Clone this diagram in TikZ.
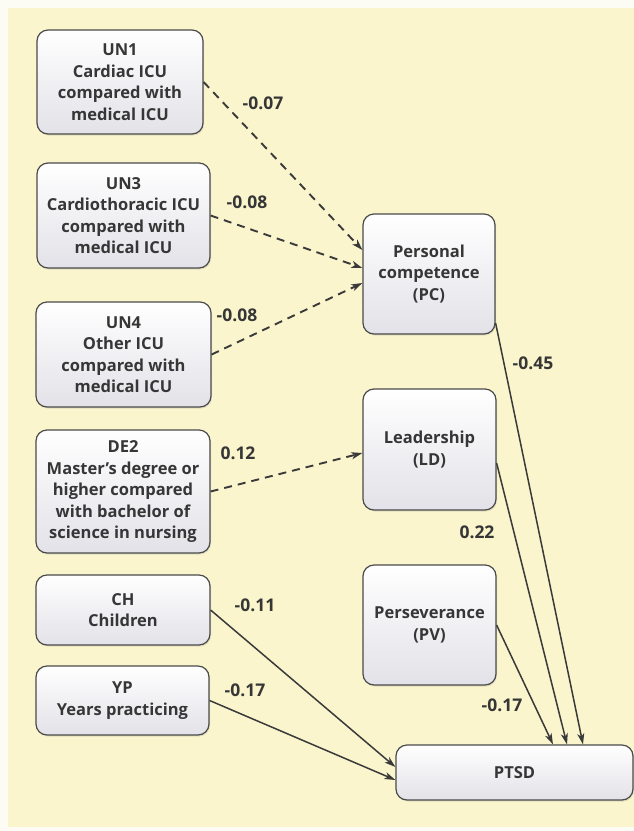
\documentclass[tikz,border=0pt]{standalone}
\usepackage{fontspec}
\setmainfont{Open Sans}
\usetikzlibrary{arrows.meta,shadows}
\definecolor{bgcream}{HTML}{FAF5CD}
\definecolor{pagewhite}{HTML}{FDFCF4}
\definecolor{boxline}{HTML}{4A4A4A}
\definecolor{boxbot}{HTML}{E2E2E8}
\definecolor{txt}{HTML}{363636}
\definecolor{arrowc}{HTML}{3A3A3A}
\begin{document}
\begin{tikzpicture}[x=1pt,y=-1pt,
  box/.style={draw=boxline, line width=1.2pt, rounded corners=11pt,
    top color=white, bottom color=boxbot, text=txt,
    font=\bfseries\fontsize{16.5}{21.5}\selectfont, align=center, inner sep=0pt,
    drop shadow={shadow xshift=1pt, shadow yshift=-1.5pt, opacity=0.2}},
  lbl/.style={text=txt, font=\bfseries\fontsize{17.5}{19}\selectfont, inner sep=0pt},
  path/.style={line width=1.5pt, draw=arrowc, -{Stealth[length=11pt,width=7pt,inset=3pt]}},
  dpath/.style={path, line width=1.9pt, dash pattern=on 8pt off 6pt}
]
\useasboundingbox (0,0) rectangle (634,831);
\fill[pagewhite] (0,0) rectangle (634,831);
\fill[bgcream] (8,8) rectangle (634,827);

\node[box, minimum width=166pt, minimum height=104pt] (un1) at (120,82)
  {UN1\\Cardiac ICU\\compared with\\medical ICU};
\node[box, minimum width=173pt, minimum height=105pt] (un3) at (123.5,215.5)
  {UN3\\Cardiothoracic ICU\\compared with\\medical ICU};
\node[box, minimum width=175pt, minimum height=105pt] (un4) at (123.5,354.5)
  {UN4\\Other ICU\\compared with\\medical ICU};
\node[box, minimum width=174pt, minimum height=123pt] (de2) at (123,491.5)
  {DE2\\Master’s degree or\\higher compared\\with bachelor of\\science in nursing};
\node[box, minimum width=174pt, minimum height=70pt] (ch) at (123,610)
  {CH\\Children};
\node[box, minimum width=173pt, minimum height=69pt] (yp) at (122.5,700.5)
  {YP\\Years practicing};
\node[box, minimum width=132pt, minimum height=120pt] (pc) at (429,274)
  {Personal\\competence\\(PC)};
\node[box, minimum width=133pt, minimum height=121pt] (ld) at (429.5,449.5)
  {Leadership\\(LD)};
\node[box, minimum width=133pt, minimum height=120pt] (pv) at (429.5,625)
  {Perseverance\\(PV)};
\node[box, minimum width=237pt, minimum height=55pt] (ptsd) at (514.5,772.5)
  {PTSD};

\draw[dpath] (un1.east) -- ([yshift=24pt]pc.west);
\draw[dpath] (un3.east) -- ([yshift=6pt]pc.west);
\draw[dpath] (un4.east) -- ([yshift=-9pt]pc.west);
\draw[dpath] (de2.east) -- ([yshift=-3.5pt]ld.west);
\draw[path] ([yshift=-49pt]pc.east) -- ([xshift=68.5pt]ptsd.north);
\draw[path] ([yshift=-13.5pt]ld.east) -- ([xshift=52.5pt]ptsd.north);
\draw[path] (pv.east) -- ([xshift=38.5pt]ptsd.north);
\draw[path] (ch.east) -- ([yshift=5.5pt]ptsd.west);
\draw[path] (yp.east) -- ([yshift=-7.5pt]ptsd.west);

\node[lbl] (l1) at (263,103) {-0.07};
\node[lbl] (l3) at (247,202) {-0.08};
\node[lbl] (l4) at (237,315) {-0.08};
\node[lbl] (l5) at (238,453) {0.12};
\node[lbl] (l6) at (255,605) {-0.11};
\node[lbl] (l7) at (245,690) {-0.17};
\node[lbl] (l8) at (533,363) {-0.45};
\node[lbl] (l9) at (477,532) {0.22};
\node[lbl] (l10) at (502,705) {-0.17};
\end{tikzpicture}
\end{document}
